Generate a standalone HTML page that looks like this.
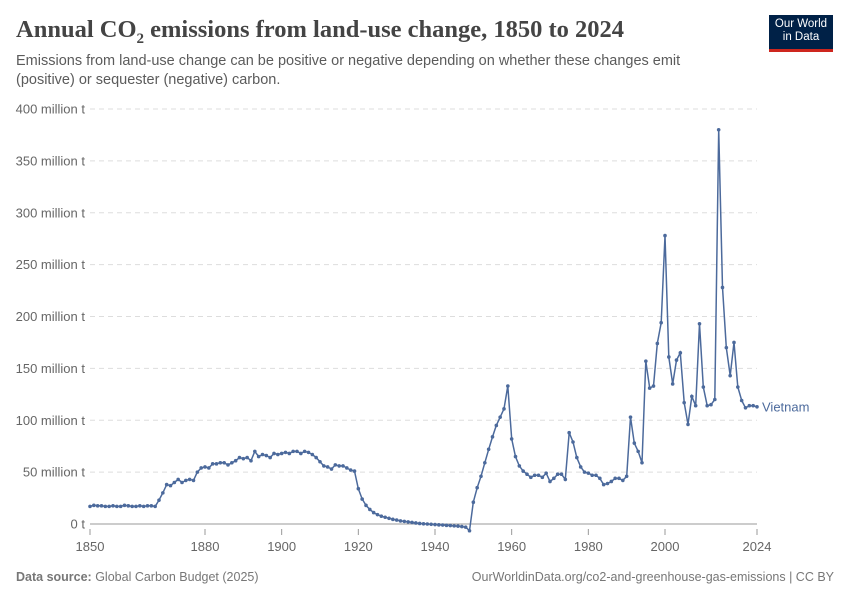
<!DOCTYPE html>
<html><head><meta charset="utf-8"><style>
body{margin:0;background:#fff;font-family:"Liberation Sans",sans-serif;}
#wrap{position:relative;width:850px;height:600px;overflow:hidden;}
h1{position:absolute;left:16px;top:16px;margin:0;font-family:"Liberation Serif",serif;font-weight:bold;font-size:24.5px;color:#444;}
.sub{position:absolute;left:16px;top:52px;width:700px;font-size:14.5px;line-height:19px;color:#5b5b5b;}
.logo{position:absolute;left:769px;top:15px;width:64px;height:37px;background:#002147;color:#fff;font-size:11.5px;line-height:13px;text-align:center;padding-top:3px;box-sizing:border-box;border-bottom:3px solid #ce261e;}
.foot{position:absolute;top:570px;font-size:12.5px;color:#777;}
</style></head><body><div id="wrap">
<h1>Annual CO<sub style="font-size:15px">2</sub> emissions from land-use change, 1850 to 2024</h1>
<div class="sub">Emissions from land-use change can be positive or negative depending on whether these changes emit (positive) or sequester (negative) carbon.</div>
<div class="logo">Our World<br>in Data</div>
<svg id="chart" width="850" height="600" style="position:absolute;left:0;top:0"></svg>
<div class="foot" style="left:16px"><b>Data source:</b> Global Carbon Budget (2025)</div>
<div class="foot" style="right:16px">OurWorldinData.org/co2-and-greenhouse-gas-emissions | CC BY</div>
</div>
<script>
const startYear=1850;
const values=[17,18,17.5,17.5,17,17,17.5,17,17,18,17.5,17,17,17.5,17,17.5,17.5,17,
23,30,38,37,40,43,40,42,43,42,50,54,55,54,58,58,59,59,57,59,61,64,63,64,61,70,65,67,66,64,68,67,68,69,68,70,70,68,70,69,67,64,60,56,55,53,57,56,56,54,52,51,
34,24,18,14,11,9,7.5,6.5,5.5,4.5,3.8,3,2.5,2,1.5,1,0.5,0.2,0,-0.3,-0.5,-0.8,-1,-1.3,-1.5,-1.8,-2,-2.5,-3,-6.5,
21,35,46,59,72,84,95,103,111,133,82,65,56,51,48,45,47,47,45,49,41,44,48,48,43,88,79,64,55,50,49,47,47,44,38,39,41,44,44,42,46,
103,78,70,59,157,131,133,174,194,278,161,135,158,165,117,96,123,114,193,132,114,115,120,380,228,170,143,175,132,119,112,114,114,113];
const yTicks=[0,50,100,150,200,250,300,350,400];
const xTicks=[1850,1880,1900,1920,1940,1960,1980,2000,2024];
const seriesName="Vietnam";
const NS="http://www.w3.org/2000/svg";
const svg=document.getElementById('chart');
const x=y=>90+(y-1850)*(667/174);
const yS=v=>524-v*(415/400);
function mk(t,a){const e=document.createElementNS(NS,t);for(const k in a)e.setAttribute(k,a[k]);svg.appendChild(e);return e;}
yTicks.forEach(v=>{
 if(v>0){const l=mk('line',{x1:90,x2:757,y1:yS(v),y2:yS(v),stroke:'#ddd','stroke-dasharray':'5,4'});
 
 }
 const t=mk('text',{x:85,y:yS(v)+4.5,'text-anchor':'end','font-size':'13','fill':'#666','font-family':'Liberation Sans'});
 t.textContent=v===0?'0 t':v+' million t';
 
 
});
const ax=mk('line',{x1:90,x2:757,y1:524,y2:524,stroke:'#999'});


xTicks.forEach(v=>{
 const tk=mk('line',{x1:x(v),x2:x(v),y1:529,y2:535,stroke:'#999'});
 
 
 const t=mk('text',{x:x(v),y:551,'text-anchor':'middle','font-size':'13','fill':'#666','font-family':'Liberation Sans'});
 t.textContent=v;
 
 
});
const pts=values.map((v,i)=>x(startYear+i).toFixed(1)+','+yS(v).toFixed(1)).join(' ');
const pl=mk('polyline',{points:pts,fill:'none',stroke:'#4c6a9c','stroke-width':'1.5'});


values.forEach((v,i)=>{
 const c=mk('circle',{cx:x(startYear+i),cy:yS(v),r:1.8,fill:'#4c6a9c'});
 
 
});
const lb=mk('text',{x:762,y:yS(values[values.length-1])+4.5,'font-size':'13','fill':'#4c6a9c','font-family':'Liberation Sans'});
lb.textContent=seriesName;


</script></body></html>
